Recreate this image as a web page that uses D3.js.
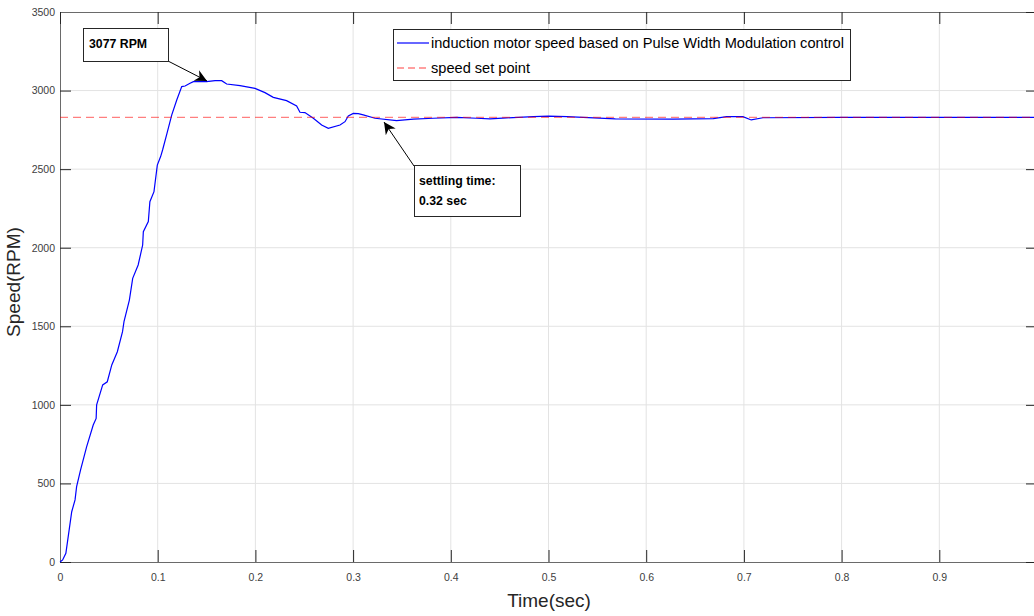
<!DOCTYPE html>
<meta charset="utf-8">
<style>
  body { margin: 0; background: #fff; }
  .tick text { font: 10.5px "Liberation Sans", Arial, sans-serif; fill: #404040; }
  .lbl { font: 19px "Liberation Sans", Arial, sans-serif; fill: #262626; }
  .leg { font: 14.6px "Liberation Sans", Arial, sans-serif; fill: #000; }
  .note { font: bold 12.3px "Liberation Sans", Arial, sans-serif; fill: #000; }
</style>
<svg width="1034" height="616"></svg>
<script src="https://d3js.org/d3.v7.min.js"></script>
<script>
  // speed response
  var time = [0, 0.0027, 0.006, 0.012, 0.0154, 0.017, 0.021, 0.0273, 0.034, 0.037, 0.0375, 0.0437, 0.0484,
    0.053, 0.0587, 0.064, 0.0655, 0.071, 0.0744, 0.08, 0.0846, 0.0853, 0.0904, 0.092, 0.0962, 0.0996, 0.103,
    0.105, 0.1095, 0.1144, 0.1195, 0.1246, 0.128, 0.1331, 0.1365, 0.1501, 0.1587, 0.1655, 0.1706, 0.1843,
    0.1996, 0.2098, 0.2183, 0.2319, 0.2422, 0.2456, 0.2507, 0.2593, 0.2678, 0.2746, 0.2866, 0.2917, 0.2951,
    0.3002, 0.3053, 0.3104, 0.3224, 0.3445, 0.3616, 0.3821, 0.4060, 0.4265, 0.4401, 0.4572, 0.4845, 0.5, 0.5189,
    0.5684, 0.6278, 0.6687, 0.6823, 0.6990, 0.7075, 0.7195, 0.8, 0.9, 1.0];
  var speed = [0, 13, 55, 320, 395, 480, 585, 734, 872, 914, 1000, 1127, 1147,
    1254, 1338, 1466, 1530, 1667, 1805, 1890, 2017, 2102, 2166, 2293, 2357, 2526, 2580,
    2622, 2728, 2845, 2940, 3025, 3029, 3046, 3057, 3057, 3063, 3063, 3042, 3031,
    3014, 2987, 2957, 2936, 2902, 2862, 2860, 2824, 2781, 2760, 2781, 2802, 2838,
    2855, 2853, 2845, 2824, 2809, 2818, 2824, 2830, 2824, 2820, 2826, 2834, 2838, 2834,
    2820, 2818, 2822, 2834, 2834, 2813, 2827, 2829, 2829, 2829];
  var setPoint = 2830;
  var xTicks = [0, 0.1, 0.2, 0.3, 0.4, 0.5, 0.6, 0.7, 0.8, 0.9];
  var yTicks = [0, 500, 1000, 1500, 2000, 2500, 3000, 3500];
  var legendLabels = ["induction motor speed based on Pulse Width Modulation control", "speed set point"];

  var svg = d3.select("svg"),
    pl = 60, pr = 1037, pt = 12, pb = 562;

  var x = d3.scaleLinear().domain([0, 1]).range([pl, pr]),
    y = d3.scaleLinear().domain([0, 3500]).range([pb, pt]);

  var data = time.map(function (t, i) { return { t: t, v: speed[i] }; });

  // grid
  svg.append("g").selectAll("line").data(xTicks.slice(1))
    .enter().append("line")
    .attr("x1", function (d) { return x(d); }).attr("x2", function (d) { return x(d); })
    .attr("y1", pt).attr("y2", pb)
    .attr("stroke", "#e3e3e3");
  svg.append("g").selectAll("line").data(yTicks.slice(1, -1))
    .enter().append("line")
    .attr("x1", pl).attr("x2", pr)
    .attr("y1", function (d) { return y(d); }).attr("y2", function (d) { return y(d); })
    .attr("stroke", "#e3e3e3");

  // axes, ticks pointing inward
  var gx = svg.append("g").attr("transform", "translate(0," + pb + ")")
    .call(d3.axisBottom(x).tickValues(xTicks).tickSize(-12).tickPadding(14)
      .tickFormat(function (d) { return d === 0 ? "0" : d3.format(".1f")(d); }));
  var gy = svg.append("g").attr("transform", "translate(" + pl + ",0)")
    .call(d3.axisLeft(y).tickValues(yTicks).tickSize(-11).tickPadding(5).tickFormat(d3.format("d")));
  svg.append("g").attr("transform", "translate(0," + pt + ")")
    .call(d3.axisTop(x).tickValues(xTicks).tickSize(-12).tickFormat(""));
  svg.append("g").attr("transform", "translate(" + pr + ",0)")
    .call(d3.axisRight(y).tickValues(yTicks).tickSize(-11).tickFormat(""));
  svg.selectAll(".domain").attr("stroke", "#6a6a6a");
  svg.selectAll(".tick line").attr("stroke", "#262626");
  gx.selectAll(".tick text").attr("dy", "0.5em");

  // curves
  var line = d3.line().x(function (d) { return x(d.t); }).y(function (d) { return y(d.v); });
  svg.append("path").datum(data)
    .attr("d", line).attr("fill", "none").attr("stroke", "#0000ff").attr("stroke-width", 1.2);
  svg.append("line")
    .attr("x1", x(0)).attr("x2", x(1)).attr("y1", y(setPoint)).attr("y2", y(setPoint))
    .attr("stroke", "#ff0000").attr("stroke-opacity", 0.5).attr("stroke-width", 1.3)
    .attr("stroke-dasharray", "8,5");

  // axis labels
  svg.append("text").attr("class", "lbl").attr("x", 549).attr("y", 607)
    .attr("text-anchor", "middle").text("Time(sec)");
  svg.append("text").attr("class", "lbl")
    .attr("transform", "translate(20,282) rotate(-90)")
    .attr("text-anchor", "middle").text("Speed(RPM)");

  // legend
  var leg = svg.append("g");
  leg.append("rect").attr("x", 393.5).attr("y", 29.5).attr("width", 457).attr("height", 51)
    .attr("fill", "#fff").attr("stroke", "#262626");
  leg.append("line").attr("x1", 397).attr("x2", 429).attr("y1", 43).attr("y2", 43)
    .attr("stroke", "#0000ff").attr("stroke-width", 1.2);
  leg.append("line").attr("x1", 397).attr("x2", 429).attr("y1", 68).attr("y2", 68)
    .attr("stroke", "#ff0000").attr("stroke-opacity", 0.5).attr("stroke-width", 1.3)
    .attr("stroke-dasharray", "7,4");
  leg.selectAll("text.leg").data(legendLabels).enter().append("text")
    .attr("class", "leg").attr("x", 431)
    .attr("y", function (d, i) { return 48 + i * 25; })
    .text(function (d) { return d; });

  // annotations
  svg.append("defs").append("marker").attr("id", "arr")
    .attr("viewBox", "0 0 10 10").attr("refX", 10).attr("refY", 5)
    .attr("markerWidth", 16).attr("markerHeight", 12).attr("markerUnits", "userSpaceOnUse")
    .attr("orient", "auto")
    .append("path").attr("d", "M0,0 L10,5 L0,10 L3,5 Z").attr("fill", "#000");

  svg.append("line").attr("x1", 168).attr("y1", 61).attr("x2", 207).attr("y2", 81)
    .attr("stroke", "#000").attr("marker-end", "url(#arr)");
  svg.append("rect").attr("x", 83.5).attr("y", 28.5).attr("width", 85).attr("height", 33)
    .attr("fill", "#fff").attr("stroke", "#262626");
  svg.append("text").attr("class", "note").attr("x", 89).attr("y", 48).text("3077 RPM");

  svg.append("line").attr("x1", 414).attr("y1", 166).attr("x2", 384).attr("y2", 122)
    .attr("stroke", "#000").attr("marker-end", "url(#arr)");
  svg.append("rect").attr("x", 414.5).attr("y", 165.5).attr("width", 106).attr("height", 51)
    .attr("fill", "#fff").attr("stroke", "#262626");
  svg.append("text").attr("class", "note").attr("x", 419).attr("y", 185).text("settling time:");
  svg.append("text").attr("class", "note").attr("x", 419).attr("y", 205).text("0.32 sec");
</script>
